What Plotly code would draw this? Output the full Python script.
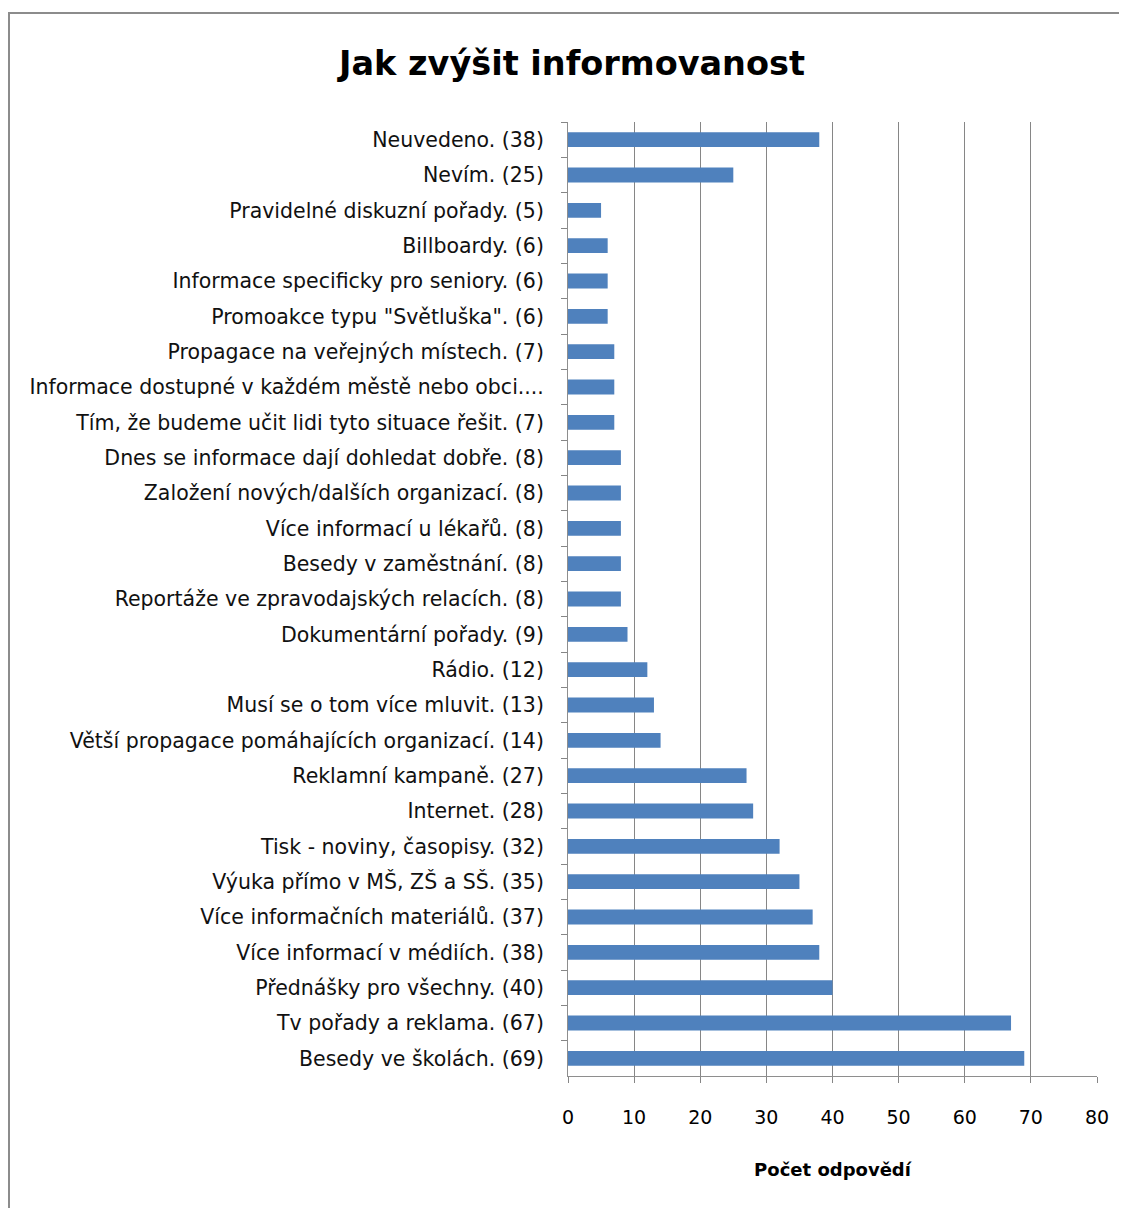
import plotly.graph_objects as go

categories = [
    "Neuvedeno. (38)",
    "Nevím. (25)",
    "Pravidelné diskuzní pořady. (5)",
    "Billboardy. (6)",
    "Informace specificky pro seniory. (6)",
    "Promoakce typu \"Světluška\". (6)",
    "Propagace na veřejných místech. (7)",
    "Informace dostupné v každém městě nebo obci....",
    "Tím, že budeme učit lidi tyto situace řešit. (7)",
    "Dnes se informace dají dohledat dobře. (8)",
    "Založení nových/dalších organizací. (8)",
    "Více informací u lékařů. (8)",
    "Besedy v zaměstnání. (8)",
    "Reportáže ve zpravodajských relacích. (8)",
    "Dokumentární pořady. (9)",
    "Rádio. (12)",
    "Musí se o tom více mluvit. (13)",
    "Větší propagace pomáhajících organizací. (14)",
    "Reklamní kampaně. (27)",
    "Internet. (28)",
    "Tisk - noviny, časopisy. (32)",
    "Výuka přímo v MŠ, ZŠ a SŠ. (35)",
    "Více informačních materiálů. (37)",
    "Více informací v médiích. (38)",
    "Přednášky pro všechny. (40)",
    "Tv pořady a reklama. (67)",
    "Besedy ve školách. (69)",
]
values = [38, 25, 5, 6, 6, 6, 7, 7, 7, 8, 8, 8, 8, 8, 9, 12, 13, 14, 27, 28, 32, 35, 37, 38, 40, 67, 69]

FONT = "DejaVu Sans"
fig = go.Figure(go.Bar(
    x=values, y=categories, orientation="h",
    marker=dict(color="#4F81BD", line=dict(width=0)),
    width=0.42,
))

# page has 8px body margin; figure coordinates = reference - 8
W, H = 1119, 1200
L, R, T, B = 560, 30, 114, 132
pw, ph = W - L - R, H - T - B

def px2x(px):
    return (px - L) / pw

def py2y(py):
    return 1 - (py - T) / ph

fig.update_layout(
    width=W, height=H,
    margin=dict(l=L, r=R, t=T, b=B, autoexpand=False),
    paper_bgcolor="white", plot_bgcolor="white",
    showlegend=False,
    title=dict(text="<b>Jak zvýšit informovanost</b>", x=564 / W, xanchor="center",
               y=1 - 55 / H, yanchor="middle",
               font=dict(family=FONT, size=33.5, color="black")),
    font=dict(family=FONT, color="black"),
    xaxis=dict(range=[0, 80], dtick=10, showgrid=True, gridcolor="#868686", gridwidth=1,
               showline=True, linecolor="#8E8E8E", linewidth=1,
               ticks="outside", ticklen=6, tickcolor="#868686",
               tickfont=dict(size=19, family=FONT, color="black"),
               ticklabelstandoff=18, zeroline=False,
               title=dict(text="<b>Počet odpovědí</b>", font=dict(size=18, family=FONT, color="black"),
                          standoff=36)),
    yaxis=dict(autorange="reversed", showline=True, linecolor="#8E8E8E", linewidth=1,
               ticks="outside", ticklen=6, tickcolor="#868686", tickson="boundaries",
               tickfont=dict(size=20.5, family=FONT, color="#111111"),
               ticklabelstandoff=19, showgrid=False),
    shapes=[dict(type="rect", xref="paper", yref="paper",
                 x0=px2x(1), x1=px2x(1140), y0=py2y(1220), y1=py2y(5),
                 line=dict(color="#8C8C8C", width=2), fillcolor="rgba(0,0,0,0)", layer="below")],
)

fig.write_html("out.html")
